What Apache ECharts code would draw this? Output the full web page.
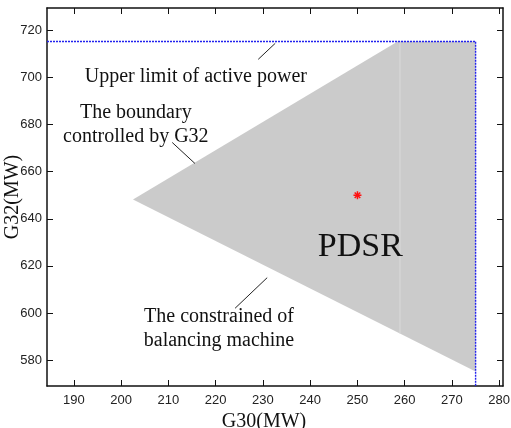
<!DOCTYPE html>
<html>
<head>
<meta charset="utf-8">
<script src="https://cdn.jsdelivr.net/npm/echarts@6/dist/echarts.min.js"></script>
<style>
    html, body { margin: 0; padding: 0; background: #fff; }
    #chart { width: 511px; height: 428px; }
</style>
</head>
<body>
<div id="chart"></div>
<script>
// axis ticks
var xTicks = [190, 200, 210, 220, 230, 240, 250, 260, 270, 280];
var yTicks = [580, 600, 620, 640, 660, 680, 700, 720];

// PDSR region (G30, G32)
var regionPts = [[202.5, 648.2], [258.5, 715.3], [275, 715.3], [275, 575.2]];
var seamPts = [[259, 715.3], [259, 591.3]];
// upper limit of active power / G30 limit
var limitPts = [[184.3, 715.3], [275, 715.3], [275, 569]];
// operating point
var opPoint = [[250, 650]];

// annotations: [x, y, text]
var notes = [
    [215.8, 700.5, 'Upper limit of active power'],
    [203.1, 680, 'The boundary\ncontrolled by G32'],
    [220.7, 593.5, 'The constrained of\nbalancing machine']
];
var leaders = [
    [[229.0, 707.7], [232.6, 714.5]],
    [[210.8, 672.4], [215.6, 663.5]],
    [[224.1, 602.0], [230.9, 615.0]]
];
var bigLabel = [[250.6, 627.9, 'PDSR']];

var serif = '"Liberation Serif", "Times New Roman", serif';
var sans = '"Liberation Sans", Arial, sans-serif';

var myChart = echarts.init(document.getElementById('chart'));

function axisX(pos, show) {
    return {
        type: 'value', position: pos, min: 184.3, max: 280.8,
        axisLine: { show: true, onZero: false, lineStyle: { color: '#111', width: 1.5 } },
        axisTick: { show: true, inside: true, length: 6, customValues: xTicks, lineStyle: { color: '#111' } },
        axisLabel: { show: show, customValues: xTicks, color: '#222', fontSize: 13, fontFamily: sans, margin: 8 },
        splitLine: { show: false },
        name: show ? 'G30(MW)' : '', nameLocation: 'middle', nameGap: 26, nameMoveOverlap: false,
        nameTextStyle: { fontFamily: serif, fontSize: 20, color: '#111', padding: [0, 22, 0, 0] }
    };
}
function axisY(pos, show) {
    return {
        type: 'value', position: pos, min: 569, max: 729.5,
        axisLine: { show: true, onZero: false, lineStyle: { color: '#111', width: 1.5 } },
        axisTick: { show: true, inside: true, length: 6, customValues: yTicks, lineStyle: { color: '#111' } },
        axisLabel: { show: show, customValues: yTicks, color: '#222', fontSize: 13, fontFamily: sans, margin: 5 },
        splitLine: { show: false },
        name: show ? 'G32(MW)' : '', nameLocation: 'middle', nameGap: 24, nameMoveOverlap: false,
        nameTextStyle: { fontFamily: serif, fontSize: 20, color: '#111' }
    };
}

myChart.setOption({
    animation: false,
    grid: { left: 47, right: 8, top: 8, bottom: 42, outerBoundsMode: 'none' },
    xAxis: [axisX('bottom', true), axisX('top', false)],
    yAxis: [axisY('left', true), axisY('right', false)],
    series: [
        {
            type: 'custom',
            data: [0],
            renderItem: function (params, api) {
                return {
                    type: 'polygon',
                    shape: { points: regionPts.map(function (p) { return api.coord(p); }) },
                    style: { fill: '#cbcbcb' }
                };
            },
            z: 1
        },
        {
            type: 'line', data: seamPts, symbol: 'none',
            lineStyle: { color: '#dadada', width: 1 }, z: 2
        },
        {
            type: 'custom',
            data: [0],
            renderItem: function (params, api) {
                return {
                    type: 'polyline',
                    shape: { points: limitPts.map(function (p) { return api.coord(p); }) },
                    style: { stroke: '#2222ee', lineWidth: 1.4, lineDash: [2, 1], fill: null }
                };
            },
            z: 3
        },
        {
            type: 'custom',
            data: opPoint,
            renderItem: function (params, api) {
                var c = api.coord([api.value(0), api.value(1)]);
                var r = 4, d = 2.8;
                var segs = [[-r, 0, r, 0], [0, -r, 0, r], [-d, -d, d, d], [-d, d, d, -d]];
                return {
                    type: 'group',
                    children: segs.map(function (s) {
                        return {
                            type: 'line',
                            shape: { x1: c[0] + s[0], y1: c[1] + s[1], x2: c[0] + s[2], y2: c[1] + s[3] },
                            style: { stroke: '#ff1010', lineWidth: 1.5 }
                        };
                    })
                };
            },
            z: 5
        },
        {
            type: 'custom',
            data: leaders.map(function (l) { return [l[0][0], l[0][1], l[1][0], l[1][1]]; }),
            renderItem: function (params, api) {
                var a = api.coord([api.value(0), api.value(1)]);
                var b = api.coord([api.value(2), api.value(3)]);
                return {
                    type: 'line',
                    shape: { x1: a[0], y1: a[1], x2: b[0], y2: b[1] },
                    style: { stroke: '#222', lineWidth: 1 }
                };
            },
            z: 4
        },
        {
            type: 'custom',
            data: notes,
            renderItem: function (params, api) {
                var c = api.coord([api.value(0), api.value(1)]);
                return {
                    type: 'text', x: c[0], y: c[1],
                    style: {
                        text: notes[params.dataIndex][2],
                        fontFamily: serif, fontSize: 20, lineHeight: 24,
                        fill: '#111', align: 'center', verticalAlign: 'middle'
                    }
                };
            },
            z: 6
        },
        {
            type: 'custom',
            data: bigLabel,
            renderItem: function (params, api) {
                var c = api.coord([api.value(0), api.value(1)]);
                return {
                    type: 'text', x: c[0], y: c[1],
                    style: {
                        text: bigLabel[params.dataIndex][2],
                        fontFamily: serif, fontSize: 34,
                        fill: '#111', align: 'center', verticalAlign: 'middle'
                    }
                };
            },
            z: 6
        }
    ]
});
</script>
</body>
</html>
